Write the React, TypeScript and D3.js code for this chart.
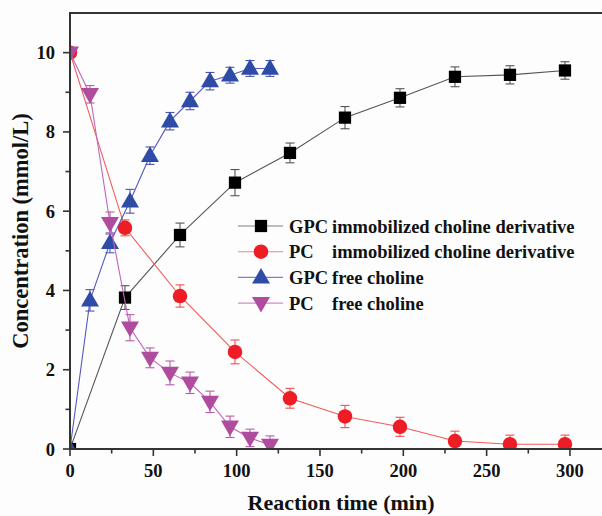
import React from "react";
import * as d3 from "d3";

const immTime = [0, 33, 66, 99, 132, 165, 198, 231, 264, 297];
const gpcImmValue = [0, 3.82, 5.4, 6.72, 7.47, 8.36, 8.86, 9.39, 9.44, 9.55];
const gpcImmErr = [0, 0.3, 0.3, 0.33, 0.25, 0.28, 0.23, 0.25, 0.23, 0.22];
const pcImmValue = [10, 5.58, 3.86, 2.45, 1.28, 0.82, 0.56, 0.2, 0.12, 0.12];
const pcImmErr = [0, 0.2, 0.28, 0.3, 0.25, 0.28, 0.24, 0.25, 0.23, 0.23];
const freeTime = [0, 12, 24, 36, 48, 60, 72, 84, 96, 108, 120];
const gpcFreeValue = [0, 3.75, 5.2, 6.25, 7.4, 8.27, 8.78, 9.28, 9.43, 9.6, 9.6];
const gpcFreeErr = [0, 0.27, 0.25, 0.3, 0.22, 0.22, 0.22, 0.22, 0.2, 0.2, 0.2];
const pcFreeValue = [10, 8.95, 5.7, 3.06, 2.3, 1.92, 1.67, 1.19, 0.56, 0.28, 0.1];
const pcFreeErr = [0, 0.22, 0.28, 0.33, 0.25, 0.3, 0.27, 0.27, 0.27, 0.22, 0.23];

const legendPrefix = ["GPC", "PC", "GPC", "PC"];
const legendSuffix = [
  "immobilized choline derivative",
  "immobilized choline derivative",
  "free choline",
  "free choline",
];
const xTicks = [0, 50, 100, 150, 200, 250, 300];
const xMinor = [25, 75, 125, 175, 225, 275];
const yTicks = [0, 2, 4, 6, 8, 10];
const yMinor = [1, 3, 5, 7, 9];

const W = 602;
const H = 516;
const x = d3.scaleLinear().domain([0, 320]).range([70, 603.3]);
const y = d3.scaleLinear().domain([0, 11]).range([449, 13]);

type Series = {
  t: number[];
  v: number[];
  e: number[];
  marker: string;
  line: string;
  err: string;
  symbol: d3.SymbolType;
  size: number;
  rot: number;
};

const series: Series[] = [
  { t: immTime, v: gpcImmValue, e: gpcImmErr, marker: "#000000", line: "#555555", err: "#555555", symbol: d3.symbolSquare, size: 150, rot: 0 },
  { t: immTime, v: pcImmValue, e: pcImmErr, marker: "#ee1c24", line: "#f25a5a", err: "#f05050", symbol: d3.symbolCircle, size: 165, rot: 0 },
  { t: freeTime, v: gpcFreeValue, e: gpcFreeErr, marker: "#2e4ba6", line: "#5558c0", err: "#4a55b0", symbol: d3.symbolTriangle, size: 140, rot: 0 },
  { t: freeTime, v: pcFreeValue, e: pcFreeErr, marker: "#b04c9e", line: "#c066bd", err: "#b85aae", symbol: d3.symbolTriangle, size: 140, rot: 180 },
];

const FONT = "'Liberation Serif', 'Times New Roman', serif";

export default function App() {
  const line = d3
    .line<[number, number]>()
    .x((d) => x(d[0]))
    .y((d) => y(d[1]));

  return (
    <svg
      width={W}
      height={H}
      viewBox={`0 0 ${W} ${H}`}
      style={{ position: "absolute", left: 0, top: 0, background: "#fdfdfd" }}
      fontFamily={FONT}
    >
      <defs>
        <clipPath id="plot">
          <rect x={70} y={13} width={540} height={436} />
        </clipPath>
      </defs>
      <rect x={0} y={0} width={W} height={H} fill="#fdfdfd" />

      {/* series */}
      <g clipPath="url(#plot)">
        {series.map((s, si) => {
          const pts = s.t.map((t, i) => [t, s.v[i]] as [number, number]);
          return (
            <g key={si}>
              <path d={line(pts) || ""} fill="none" stroke={s.line} strokeWidth={1.1} />
              {pts.map((p, i) =>
                s.e[i] > 0 ? (
                  <g key={i} stroke={s.err} strokeWidth={1.1}>
                    <line x1={x(p[0])} x2={x(p[0])} y1={y(p[1] - s.e[i])} y2={y(p[1] + s.e[i])} />
                    <line x1={x(p[0]) - 4.5} x2={x(p[0]) + 4.5} y1={y(p[1] + s.e[i])} y2={y(p[1] + s.e[i])} />
                    <line x1={x(p[0]) - 4.5} x2={x(p[0]) + 4.5} y1={y(p[1] - s.e[i])} y2={y(p[1] - s.e[i])} />
                  </g>
                ) : null
              )}
              {pts.map((p, i) => (
                <path
                  key={"m" + i}
                  d={d3.symbol().type(s.symbol).size(s.size)() || ""}
                  transform={`translate(${x(p[0])},${y(p[1]) + (s.symbol === d3.symbolTriangle ? (s.rot ? -1 : 1) : 0)}) rotate(${s.rot})`}
                  fill={s.marker}
                />
              ))}
            </g>
          );
        })}
      </g>

      {/* frame */}
      <line x1={69} x2={W} y1={13} y2={13} stroke="#333" strokeWidth={2} />
      <line x1={70} x2={70} y1={12} y2={450} stroke="#333" strokeWidth={2} />
      <line x1={69} x2={W} y1={449} y2={449} stroke="#333" strokeWidth={2} />

      {/* x ticks */}
      {xTicks.map((t) => (
        <g key={t}>
          <line x1={x(t)} x2={x(t)} y1={449} y2={456} stroke="#333" strokeWidth={1.6} />
          <text x={x(t)} y={477} textAnchor="middle" fontSize={18.5} fontWeight="bold" fill="#111">
            {t}
          </text>
        </g>
      ))}
      {xMinor.map((t) => (
        <line key={t} x1={x(t)} x2={x(t)} y1={449} y2={453.5} stroke="#333" strokeWidth={1.6} />
      ))}

      {/* y ticks */}
      {yTicks.map((t) => (
        <g key={t}>
          <line x1={63} x2={70} y1={y(t)} y2={y(t)} stroke="#333" strokeWidth={1.6} />
          <text x={55} y={y(t) + 6.5} textAnchor="end" fontSize={18.5} fontWeight="bold" fill="#111">
            {t}
          </text>
        </g>
      ))}
      {yMinor.map((t) => (
        <line key={t} x1={65.5} x2={70} y1={y(t)} y2={y(t)} stroke="#333" strokeWidth={1.6} />
      ))}

      {/* axis titles */}
      <text x={341} y={510} textAnchor="middle" fontSize={22} fontWeight="bold" fill="#111">
        Reaction time (min)
      </text>
      <text
        transform="translate(28,231) rotate(-90)"
        textAnchor="middle"
        fontSize={22.5}
        fontWeight="bold"
        fill="#111"
      >
        Concentration (mmol/L)
      </text>

      {/* legend */}
      {series.map((s, i) => {
        const ly = 226 + i * 25.7;
        return (
          <g key={"lg" + i}>
            <line x1={238} x2={283} y1={ly} y2={ly} stroke={s.line} strokeWidth={1.1} opacity={0.75} />
            <path
              d={d3.symbol().type(s.symbol).size(s.size)() || ""}
              transform={`translate(261,${ly + (s.symbol === d3.symbolTriangle ? (s.rot ? -1 : 1) : 0)}) rotate(${s.rot})`}
              fill={s.marker}
            />
            <text x={289} y={ly + 6.5} fontSize={18.5} fontWeight="bold" fill="#111">
              {legendPrefix[i]}
            </text>
            <text x={332} y={ly + 6.5} fontSize={18.5} fontWeight="bold" fill="#111">
              {legendSuffix[i]}
            </text>
          </g>
        );
      })}
    </svg>
  );
}
